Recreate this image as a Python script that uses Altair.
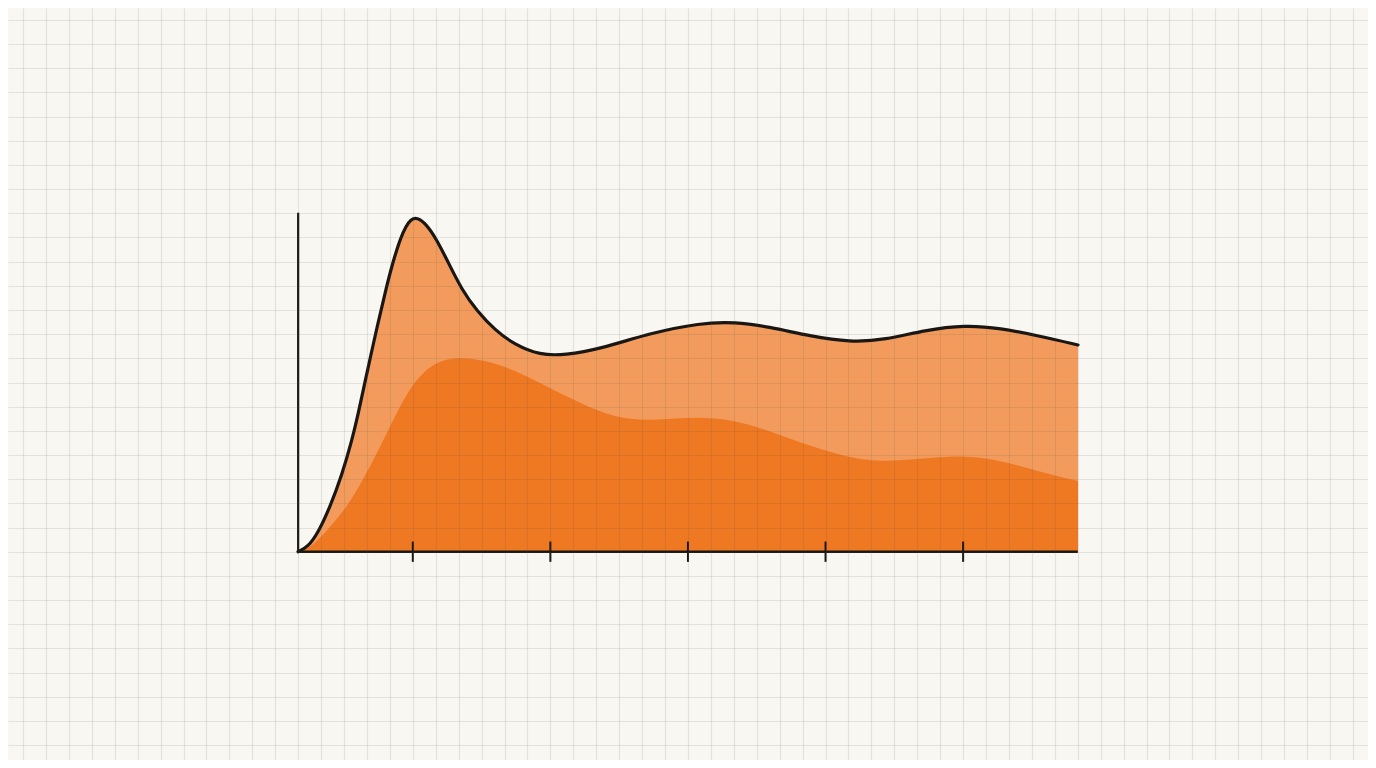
import altair as alt
import pandas as pd

# ---- data ----
light_x = [0.166, 0.238, 0.311, 0.398, 0.485, 0.558, 0.602, 0.645, 0.689, 0.747, 0.805,
           0.856, 0.929, 1.001, 1.089, 1.176, 1.256, 1.358, 1.467, 1.597, 1.743, 1.925,
           2.106, 2.361, 2.725, 3.088, 3.343, 3.597, 3.888, 4.179, 4.433, 4.724, 5.014,
           5.268, 5.559, 5.835]
light_y = [0, 1.4, 5.5, 13.2, 22.7, 33.0, 40.5, 48.8, 57.0, 67.6, 77.6,
           85.8, 95.0, 99.5, 97.4, 92.1, 85.6, 77.3, 71.1, 65.5, 61.1, 58.1,
           58.1, 59.9, 64.6, 67.6, 67.9, 66.4, 63.7, 61.9, 62.6, 65.5, 67.0,
           66.1, 63.7, 61.1]

dark_x = [0.166, 0.268, 0.398, 0.522, 0.645, 0.762, 0.878, 0.980, 1.089, 1.198, 1.329,
          1.525, 1.743, 1.962, 2.216, 2.470, 2.725, 3.088, 3.416, 3.779, 4.142, 4.397,
          4.688, 4.979, 5.269, 5.559, 5.835]
dark_y = [0, 1.4, 7.3, 13.2, 21.8, 30.9, 40.7, 48.4, 53.7, 56.4, 57.5,
          56.6, 53.7, 49.0, 43.9, 39.5, 38.6, 40.1, 38.4, 32.7, 28.0, 26.5,
          27.4, 28.6, 27.1, 23.6, 20.9]

tick_x = [1, 2, 3, 4, 5]
x_start, x_end = 0.1667, 5.8333
y_top = 100.2
tick_half = 3.0

# ---- scales covering the whole page ----
X_DOMAIN = [-1.9423, 7.9429]
Y_DOMAIN = [-61.55, 160.67]
x_grid = [1 + (k - 17) / 6 for k in range(60)]
y_grid = [(22 - k) * 100 / 14 for k in range(32)]

BG = "#f8f7f2"
INK = "#1a1613"
GRID = dict(grid=True, labels=False, ticks=False, domain=False, title=None,
            gridColor="#55554c", gridOpacity=0.13, gridWidth=1.2, zindex=1)

xs = alt.Scale(domain=X_DOMAIN, nice=False, zero=False)
ys = alt.Scale(domain=Y_DOMAIN, nice=False, zero=False)
ax_x = alt.Axis(values=x_grid, **GRID)
ax_y = alt.Axis(values=y_grid, **GRID)


def X(field="x"):
    return alt.X(f"{field}:Q", scale=xs, axis=ax_x)


def Y(field="y"):
    return alt.Y(f"{field}:Q", scale=ys, axis=ax_y)


light = pd.DataFrame({"x": light_x, "y": light_y, "base": 0.0})
dark = pd.DataFrame({"x": dark_x, "y": dark_y, "base": 0.0})

CURVE = "basis"
light_area = alt.Chart(light).mark_area(color="#F29B5C", interpolate=CURVE).encode(
    x=X(), y=Y(), y2="base:Q")
dark_area = alt.Chart(dark).mark_area(color="#EF7822", interpolate=CURVE).encode(
    x=X(), y=Y(), y2="base:Q")
light_line = alt.Chart(light).mark_line(color=INK, strokeWidth=3.2, interpolate=CURVE,
                                        strokeCap="round").encode(x=X(), y=Y())

yaxis_df = pd.DataFrame({"x": [x_start], "y": [0.0], "y2": [y_top]})
xaxis_df = pd.DataFrame({"x": [x_start], "x2": [x_end], "y": [0.0]})
ticks_df = pd.DataFrame({"x": tick_x, "y": [-tick_half] * len(tick_x), "y2": [tick_half] * len(tick_x)})

yaxis = alt.Chart(yaxis_df).mark_rule(color=INK, strokeWidth=2.2).encode(x=X(), y=Y(), y2="y2:Q")
xaxis = alt.Chart(xaxis_df).mark_rule(color=INK, strokeWidth=2.4).encode(x=X(), x2="x2:Q", y=Y())
ticks = alt.Chart(ticks_df).mark_rule(color=INK, strokeWidth=2).encode(x=X(), y=Y(), y2="y2:Q")

chart = alt.layer(light_area, dark_area, light_line, yaxis, xaxis, ticks).properties(
    width=1360, height=752,
    autosize=alt.AutoSizeParams(type="none"),
    padding=0,
    background=BG,
).configure_view(stroke=None, fill=BG)

chart.save("out.html", embed_options={"renderer": "svg", "actions": False})
